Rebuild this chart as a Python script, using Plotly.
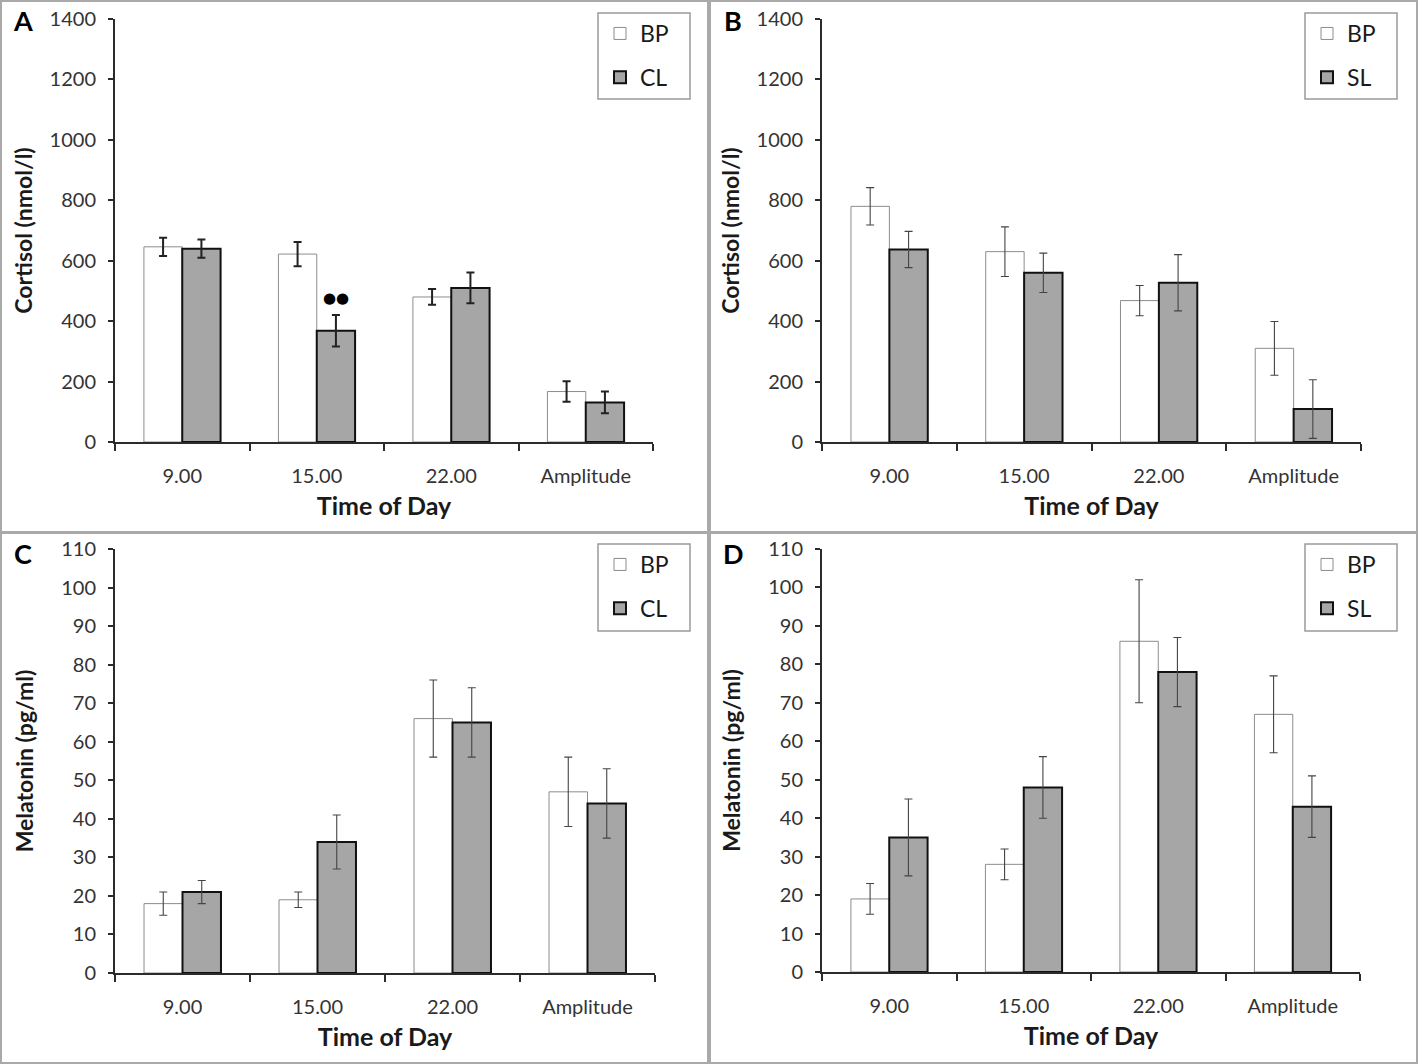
import plotly.graph_objects as go

# ---------------- data ----------------
categories = ["9.00", "15.00", "22.00", "Amplitude"]

# Panel A: Cortisol, BP vs CL
a_bp = [646, 622, 480, 167]
a_bp_err = [30, 40, 26, 34]
a_cl = [640, 368, 510, 131]
a_cl_err = [30, 52, 51, 36]
a_sig = ["", "●●", "", ""]

# Panel B: Cortisol, BP vs SL
b_bp = [780, 630, 468, 310]
b_bp_err = [62, 82, 50, 89]
b_sl = [637, 560, 527, 109]
b_sl_err = [60, 65, 93, 97]

# Panel C: Melatonin, BP vs CL
c_bp = [18, 19, 66, 47]
c_bp_err = [3, 2, 10, 9]
c_cl = [21, 34, 65, 44]
c_cl_err = [3, 7, 9, 9]

# Panel D: Melatonin, BP vs SL
d_bp = [19, 28, 86, 67]
d_bp_err = [4, 4, 16, 10]
d_sl = [35, 48, 78, 43]
d_sl_err = [10, 8, 9, 8]

cortisol_ticks = [0, 200, 400, 600, 800, 1000, 1200, 1400]
melatonin_ticks = [0, 10, 20, 30, 40, 50, 60, 70, 80, 90, 100, 110]

# ---------------- style ----------------
W, H = 1418, 1064
FONT = "Lato"
GREY_FILL = "#a6a6a6"
BARGAP = 0.43

panels = [
    dict(key="A", xa="x", ya="y", bp=a_bp, bpe=a_bp_err, g=a_cl, ge=a_cl_err, gname="CL",
         xdom=(115, 653), ydom=(19, 442), ymax=1400, ticks=cortisol_ticks,
         ytitle="Cortisol (nmol/l)", legend="legend", errw=2.0, ystand=11,
         box=(598, 13, 690, 99), frame=(1, 1, 708, 532), letter=(23, 20)),
    dict(key="B", xa="x2", ya="y2", bp=b_bp, bpe=b_bp_err, g=b_sl, ge=b_sl_err, gname="SL",
         xdom=(822, 1361), ydom=(19, 442), ymax=1400, ticks=cortisol_ticks,
         ytitle="Cortisol (nmol/l)", legend="legend2", errw=1.1, ystand=11,
         box=(1305, 13, 1397, 99), frame=(710, 1, 1417, 532), letter=(733, 20)),
    dict(key="C", xa="x3", ya="y3", bp=c_bp, bpe=c_bp_err, g=c_cl, ge=c_cl_err, gname="CL",
         xdom=(115, 655), ydom=(549, 973), ymax=110, ticks=melatonin_ticks,
         ytitle="Melatonin (pg/ml)", legend="legend3", errw=1.1, ystand=21,
         box=(598, 544, 690, 631), frame=(1, 533, 708, 1063), letter=(23, 553)),
    dict(key="D", xa="x4", ya="y4", bp=d_bp, bpe=d_bp_err, g=d_sl, ge=d_sl_err, gname="SL",
         xdom=(822, 1360), ydom=(549, 972), ymax=110, ticks=melatonin_ticks,
         ytitle="Melatonin (pg/ml)", legend="legend4", errw=1.1, ystand=21,
         box=(1305, 544, 1397, 631), frame=(710, 533, 1417, 1063), letter=(733, 553)),
]

fig = go.Figure()
layout = dict(
    width=W, height=H,
    margin=dict(l=0, r=0, t=0, b=0, autoexpand=False),
    paper_bgcolor="white", plot_bgcolor="white",
    barmode="group", bargap=BARGAP, bargroupgap=0,
    font=dict(family=FONT, color="#333333"),
    shapes=[], annotations=[],
)

def px_x(v):
    return v / W

def px_y(v):
    return 1 - v / H

for p in panels:
    ecol = "#222222" if p["key"] == "A" else "#444444"
    fig.add_trace(go.Bar(
        x=categories, y=p["bp"], name="BP", xaxis=p["xa"], yaxis=p["ya"],
        marker=dict(color="white", line=dict(color="#8c8c8c", width=1)),
        error_y=dict(type="data", array=p["bpe"], visible=True, color=ecol,
                     thickness=p["errw"], width=4),
        legend=p["legend"], legendgroup=p["key"] + "bp", offsetgroup="bp",
        hoverinfo="skip",
    ))
    fig.add_trace(go.Bar(
        x=categories, y=p["g"], name=p["gname"], xaxis=p["xa"], yaxis=p["ya"],
        marker=dict(color=GREY_FILL, line=dict(color="#111111", width=2)),
        error_y=dict(type="data", array=p["ge"], visible=True, color=ecol,
                     thickness=p["errw"], width=4),
        legend=p["legend"], legendgroup=p["key"] + "g", offsetgroup="g",
        hoverinfo="skip",
    ))

    n = "" if p["xa"] == "x" else p["xa"][1:]
    layout["xaxis" + n] = dict(
        domain=[px_x(p["xdom"][0]), px_x(p["xdom"][1])],
        anchor=p["ya"], type="category", range=[-0.5, 3.5],
        showline=True, linecolor="#2b2b2b", linewidth=2,
        ticks="outside", tickson="boundaries", ticklen=7, tickcolor="#2b2b2b", tickwidth=1.5,
        tickfont=dict(size=20, color="#333333"), ticklabelstandoff=15,
        showgrid=False, zeroline=False, fixedrange=True, automargin=False,
        title=dict(text="<b>Time of Day</b>", font=dict(size=25, color="#1a1a1a"), standoff=11),
    )
    layout["yaxis" + n] = dict(
        domain=[px_y(p["ydom"][1]), px_y(p["ydom"][0])],
        anchor=p["xa"], range=[0, p["ymax"]],
        tickvals=p["ticks"], ticktext=[str(t) for t in p["ticks"]],
        showline=True, linecolor="#2b2b2b", linewidth=2,
        ticks="outside", ticklen=5, tickcolor="#2b2b2b", tickwidth=1.5,
        tickfont=dict(size=20, color="#333333"), ticklabelstandoff=8,
        showgrid=False, zeroline=False, fixedrange=True, automargin=False,
        title=dict(text="<b>" + p["ytitle"] + "</b>", font=dict(size=23, color="#1a1a1a"),
                   standoff=p["ystand"]),
    )

    bx0, by0, bx1, by1 = p["box"]
    layout[p["legend"]] = dict(
        x=px_x(bx0 + 2), y=px_y(by0 - 1), xanchor="left", yanchor="top",
        bgcolor="rgba(0,0,0,0)", borderwidth=0,
        font=dict(size=23, color="#1a1a1a"),
        traceorder="grouped", tracegroupgap=11, itemclick=False, itemdoubleclick=False,
    )
    # legend frame
    layout["shapes"].append(dict(
        type="rect", xref="paper", yref="paper",
        x0=px_x(bx0), x1=px_x(bx1), y0=px_y(by1), y1=px_y(by0),
        line=dict(color="#9a9a9a", width=1.5), fillcolor="rgba(0,0,0,0)", layer="below",
    ))
    # panel frame
    fx0, fy0, fx1, fy1 = p["frame"]
    layout["shapes"].append(dict(
        type="rect", xref="paper", yref="paper",
        x0=px_x(fx0), x1=px_x(fx1), y0=px_y(fy1), y1=px_y(fy0),
        line=dict(color="#a9a9a9", width=2), fillcolor="rgba(0,0,0,0)", layer="below",
    ))
    # panel letter
    lx, ly = p["letter"]
    layout["annotations"].append(dict(
        text="<b>" + p["key"] + "</b>", xref="paper", yref="paper",
        x=px_x(lx), y=px_y(ly), xanchor="center", yanchor="middle",
        showarrow=False, font=dict(size=27, color="black", family=FONT),
    ))

# significance markers on panel A (above the CL bars)
offset = (1 - BARGAP) / 4
for i, s in enumerate(a_sig):
    if s:
        layout["annotations"].append(dict(
            text=s, xref="x", yref="y", x=i + offset, y=a_cl[i] + a_cl_err[i],
            xanchor="center", yanchor="bottom", yshift=6, showarrow=False,
            font=dict(size=15, color="black", family="DejaVu Sans"),
        ))

fig.update_layout(**layout)
fig.write_html(
    "out.html",
    config={"displayModeBar": False, "staticPlot": False},
    post_script="document.body.style.margin='0px';",
)
